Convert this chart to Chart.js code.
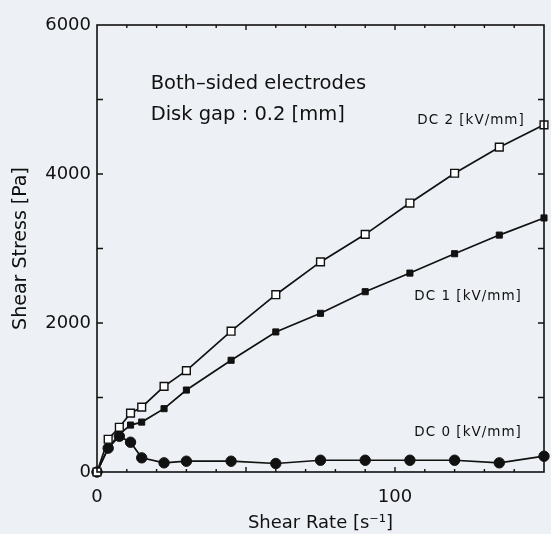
<!DOCTYPE html>
<html>
<head>
<meta charset="utf-8">
<script src="https://cdn.jsdelivr.net/npm/chart.js@4.4.1/dist/chart.umd.min.js"></script>
<style>
  html, body { margin: 0; padding: 0; background: #edf0f5; }
  #wrap { width: 551px; height: 534px; }
</style>
</head>
<body>
<div id="wrap"><canvas id="chart"></canvas></div>
<script>
// shear rate [1/s]
var rate = [0, 3.75, 7.5, 11.25, 15, 22.5, 30, 45, 60, 75, 90, 105, 120, 135, 150];
// shear stress [Pa]
var dc2 = [0, 440, 600, 790, 870, 1150, 1360, 1890, 2380, 2820, 3190, 3610, 4010, 4360, 4660];
var dc1 = [0, 320, 510, 630, 670, 850, 1100, 1500, 1880, 2130, 2420, 2670, 2930, 3180, 3410];
var dc0 = [0, 320, 480, 400, 190, 123, 145, 145, 114, 158, 158, 158, 158, 123, 212];

var xLabels = [0, 100];
var yLabels = [0, 2000, 4000, 6000];

var notes = [
    { text: 'Both\u2013sided electrodes', x: 18, y: 5210, size: 19.5, spacing: 0 },
    { text: 'Disk gap : 0.2 [mm]', x: 18, y: 4790, size: 19.5, spacing: 0 },
    { text: 'DC 2 [kV/mm]', x: 107.5, y: 4720, size: 13.5, spacing: 1 },
    { text: 'DC 1 [kV/mm]', x: 106.5, y: 2350, size: 13.5, spacing: 1 },
    { text: 'DC 0 [kV/mm]', x: 106.5, y: 530, size: 13.5, spacing: 1 }
];

var font = 'DejaVu Sans';
var ink = '#111111';

function pts(ys) {
    return rate.map(function (r, i) { return { x: r, y: ys[i] }; });
}

// small inward ticks on all four sides + the text notes
var framePlugin = {
    id: 'frame',
    afterDatasetsDraw: function (chart) {
        var ctx = chart.ctx;
        var xs = chart.scales.x, ys = chart.scales.y;
        var a = chart.chartArea;
        ctx.save();
        ctx.strokeStyle = ink;
        ctx.lineWidth = 1.4;
        ctx.beginPath();
        for (var v = 1000; v < 6000; v += 1000) {
            var py = ys.getPixelForValue(v);
            ctx.moveTo(a.left, py); ctx.lineTo(a.left + 6, py);
            ctx.moveTo(a.right, py); ctx.lineTo(a.right - 6, py);
        }
        for (var u = 10; u < 150; u += 10) {
            var px = xs.getPixelForValue(u);
            var len = (u % 50 === 0) ? 5 : 3;
            ctx.moveTo(px, a.bottom); ctx.lineTo(px, a.bottom - len);
            ctx.moveTo(px, a.top); ctx.lineTo(px, a.top + len);
        }
        ctx.stroke();
        ctx.lineWidth = 1.6;
        ctx.strokeRect(a.left, a.top, a.right - a.left, a.bottom - a.top);

        ctx.fillStyle = ink;
        ctx.textBaseline = 'middle';
        ctx.textAlign = 'left';
        notes.forEach(function (n) {
            ctx.font = n.size + 'px "' + font + '"';
            ctx.letterSpacing = n.spacing + 'px';
            ctx.fillText(n.text, xs.getPixelForValue(n.x), ys.getPixelForValue(n.y));
        });
        ctx.restore();
    }
};

var ctx = document.getElementById('chart').getContext('2d');
new Chart(ctx, {
    type: 'scatter',
    data: {
        datasets: [{
            label: 'DC 2 [kV/mm]',
            data: pts(dc2),
            showLine: true,
            borderColor: ink,
            borderWidth: 1.7,
            pointStyle: 'rect',
            pointRadius: 5.5,
            pointBackgroundColor: '#ffffff',
            pointBorderColor: ink,
            pointBorderWidth: 1.4,
            clip: false
        }, {
            label: 'DC 1 [kV/mm]',
            data: pts(dc1),
            showLine: true,
            borderColor: ink,
            borderWidth: 1.7,
            pointStyle: 'rect',
            pointRadius: 4.3,
            pointBackgroundColor: ink,
            pointBorderColor: ink,
            pointBorderWidth: 1,
            clip: false
        }, {
            label: 'DC 0 [kV/mm]',
            data: pts(dc0),
            showLine: true,
            borderColor: ink,
            borderWidth: 1.7,
            pointStyle: 'circle',
            pointRadius: 5.2,
            pointBackgroundColor: ink,
            pointBorderColor: ink,
            pointBorderWidth: 1,
            clip: false
        }]
    },
    options: {
        responsive: true,
        maintainAspectRatio: false,
        animation: false,
        layout: { padding: { left: 0, right: 6, top: 25, bottom: 0 } },
        plugins: {
            legend: { display: false },
            tooltip: { enabled: false }
        },
        scales: {
            x: {
                type: 'linear',
                min: 0,
                max: 150,
                grid: { display: false },
                border: { display: false },
                ticks: {
                    stepSize: 10,
                    autoSkip: false,
                    maxRotation: 0,
                    padding: 7,
                    color: ink,
                    font: { family: font, size: 18 },
                    callback: function (v) { return xLabels.indexOf(v) >= 0 ? String(v) : ''; }
                },
                title: {
                    display: true,
                    text: 'Shear Rate [s\u207B\u00B9]',
                    color: ink,
                    font: { family: font, size: 18 },
                    padding: { top: 0, bottom: 0 }
                },
                afterFit: function (s) { s.height = 62; }
            },
            y: {
                min: 0,
                max: 6000,
                grid: { display: false },
                border: { display: false },
                ticks: {
                    stepSize: 1000,
                    padding: -2,
                    color: ink,
                    font: { family: font, size: 18 },
                    callback: function (v) { return yLabels.indexOf(v) >= 0 ? String(v) : ''; }
                },
                title: {
                    display: true,
                    text: 'Shear Stress [Pa]',
                    color: ink,
                    font: { family: font, size: 19 },
                    padding: { top: 10, bottom: 0 }
                },
                afterFit: function (s) { s.width = 97; }
            }
        }
    },
    plugins: [framePlugin]
});
</script>
</body>
</html>
